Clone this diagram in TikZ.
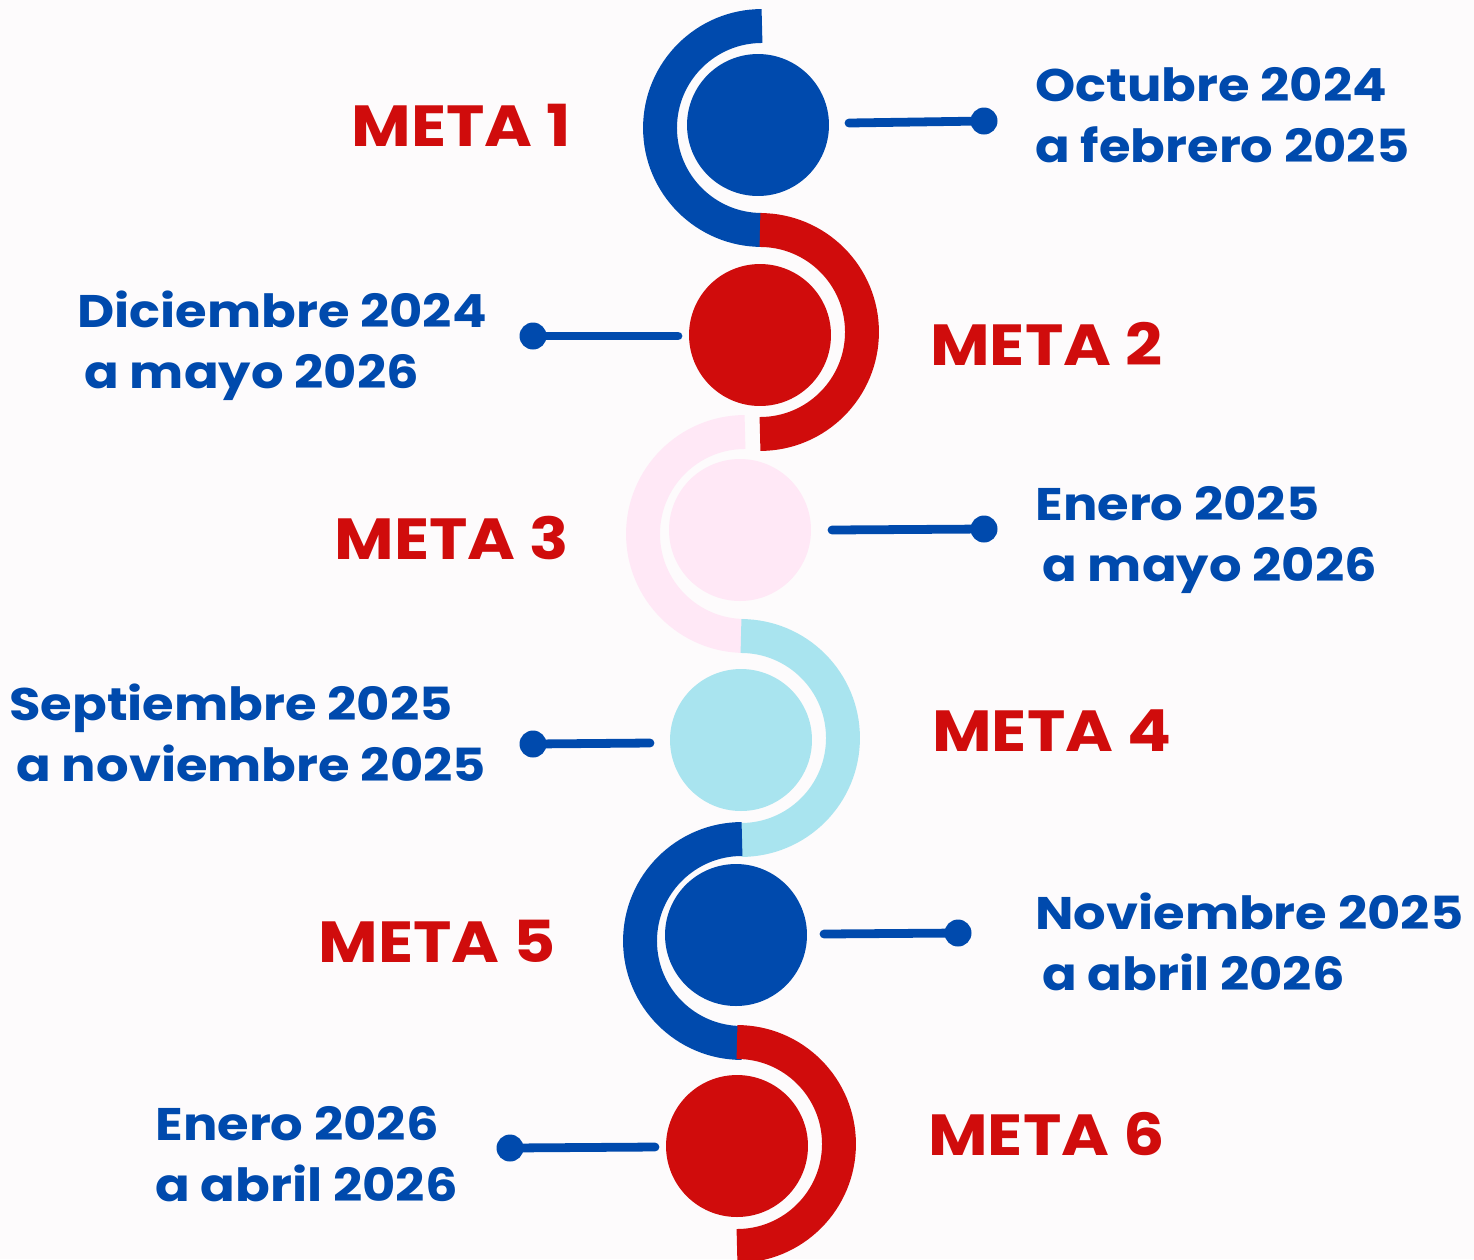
\documentclass[tikz,border=0pt]{standalone}
\usepackage{fontspec}
\setmainfont{Poppins}[BoldFont={* Bold}, BoldFeatures={FakeStretch=1.12}]
\usetikzlibrary{positioning}

\definecolor{metablue}{HTML}{004AAD}
\definecolor{metared}{HTML}{D00C0C}
\definecolor{metapink}{HTML}{FFE8F6}
\definecolor{metasky}{HTML}{A9E4EF}
\definecolor{paper}{HTML}{FDFBFC}

\tikzset{
  disc/.style={circle, minimum size=2.84cm, inner sep=0pt},
  band/.style={line width=19.3pt, line cap=butt},
  link/.style={metablue, line width=5pt, line cap=round},
  dot/.style={circle, fill=metablue, minimum size=0.54cm, inner sep=0pt},
  meta/.style={text=metared, font=\bfseries\fontsize{33}{40}\selectfont, inner sep=0pt},
  fecha/.style={text=metablue, font=\bfseries\fontsize{26}{34.6}\selectfont, align=left, anchor=west, inner sep=0pt}
}

\begin{document}
\begin{tikzpicture}[x=0.02cm,y=-0.02cm]
      \useasboundingbox (0,0) rectangle (1474,1259);
      \fill[paper] (0,0) rectangle (1474,1259);
      \clip (0,0) rectangle (1474,1259);

      % bands
      \draw[band, metablue] (762,26) arc[start angle=90, end angle=270, radius=2.04cm];
      \draw[band, metared] (760,230) arc[start angle=90, end angle=-90, radius=2.04cm];
      \draw[band, metapink] (745,432) arc[start angle=90, end angle=270, radius=2.04cm];
      \draw[band, metasky] (741,636) arc[start angle=90, end angle=-90, radius=2.04cm];
      \draw[band, metablue] (742,839) arc[start angle=90, end angle=270, radius=2.04cm];
      \draw[band, metared] (737,1042) arc[start angle=90, end angle=-90, radius=2.04cm];

      % discs
      \node[disc, fill=metablue] (c1) at (758,125) {};
      \node[disc, fill=metared] (c2) at (760,335) {};
      \node[disc, fill=metapink] (c3) at (740,530) {};
      \node[disc, fill=metasky] (c4) at (741,740) {};
      \node[disc, fill=metablue] (c5) at (736,935) {};
      \node[disc, fill=metared] (c6) at (737,1146) {};

      % connectors
      \coordinate (s1) at (849,123);
      \coordinate (s2) at (678,336);
      \coordinate (s3) at (832,530);
      \coordinate (s4) at (650,743);
      \coordinate (s5) at (824,934);
      \coordinate (s6) at (655,1147);
      \node[dot] (d1) at (984,121) {};
      \node[dot] (d2) at (533,336) {};
      \node[dot] (d3) at (984,529) {};
      \node[dot] (d4) at (533,744) {};
      \node[dot] (d5) at (958,933) {};
      \node[dot] (d6) at (510,1148) {};
      \foreach \i in {1,...,6}
        \draw[link] (s\i) -- (d\i.center);

      % labels
      \node[meta, anchor=east] (m1) at (571,125) {META 1};
      \node[meta, anchor=west] (m2) at (930,344) {META 2};
      \node[meta, anchor=east] (m3) at (569,538) {META 3};
      \node[meta, anchor=west] (m4) at (932,731) {META 4};
      \node[meta, anchor=east] (m5) at (556,941) {META 5};
      \node[meta, anchor=west] (m6) at (928,1134) {META 6};

      \node[fecha] (f1) at (1035,115) {Octubre 2024\\a febrero 2025};
      \node[fecha] (f2) at (77,346) {Diciembre 2024\\\hspace*{10\pgflinewidth}a mayo 2026};
      \node[fecha] (f3) at (1035,540) {Enero 2025\\\hspace*{10\pgflinewidth}a mayo 2026};
      \node[fecha] (f4) at (9,733) {Septiembre 2025\\\hspace*{10\pgflinewidth}a noviembre 2025};
      \node[fecha] (f5) at (1035,942) {Noviembre 2025\\\hspace*{10\pgflinewidth}a abril 2026};
      \node[fecha] (f6) at (155,1154) {Enero 2026\\a abril 2026};
    \end{tikzpicture}
\end{document}
